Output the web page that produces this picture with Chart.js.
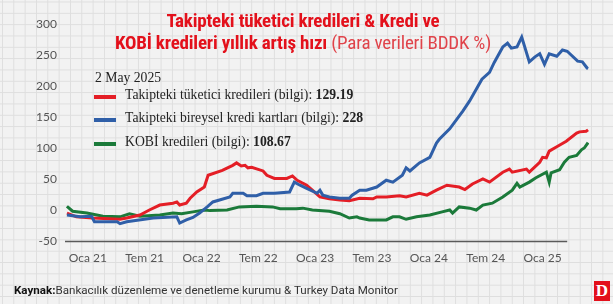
<!DOCTYPE html>
<html><head><meta charset="utf-8">
<script src="https://cdn.jsdelivr.net/npm/chart.js@4/dist/chart.umd.min.js"></script>
<style>
html,body{margin:0;padding:0;}
body{width:613px;height:304px;overflow:hidden;position:relative;
background-color:#f2f2f2;
background-image:linear-gradient(to right,#dedede 1px,transparent 1px),linear-gradient(to bottom,#dedede 1px,transparent 1px);
background-size:11.33px 11.33px;background-position:2px 1.5px;}
#c{position:absolute;left:0;top:0;}
#title{position:absolute;left:53px;top:10px;width:500px;text-align:center;color:#e3101b;font-family:"Liberation Sans Narrow","Roboto Condensed","Roboto",sans-serif;font-size:19px;line-height:22px;letter-spacing:-0.2px;}
#title b{font-weight:bold;}
#title .lt{font-weight:normal;color:#e0434a;}
#legend{position:absolute;left:94px;top:70px;font-family:"Liberation Serif","DejaVu Serif",serif;font-size:13.7px;color:#222;}
#legend .date{position:absolute;left:1px;top:0;white-space:nowrap;}
#legend .row{position:absolute;left:0;white-space:nowrap;}
#legend .sw{position:absolute;left:0;width:22px;height:4px;}
#legend .tx{position:absolute;left:31px;top:-8px;}
#src{position:absolute;left:14px;top:283px;font-family:"Liberation Sans Narrow","Roboto",sans-serif;font-size:11.6px;color:#333;white-space:nowrap;}
#src b{color:#111;}
#logo{position:absolute;left:594px;top:281px;width:16px;height:20px;background:#e3101b;color:#fff;font-family:"Liberation Serif",serif;font-weight:bold;font-size:17px;line-height:20px;text-align:center;}
</style></head>
<body>
<canvas id="c" width="613" height="304"></canvas>
<div id="title"><b>Takipteki tüketici kredileri &amp; Kredi ve</b><br><b>KOBİ kredileri yıllık artış hızı</b> <span class="lt">(Para verileri BDDK %)</span></div>
<div id="legend">
  <div class="date">2 May 2025</div>
  <div class="row" style="top:25px"><div class="sw" style="background:#e41e26"></div><div class="tx">Takipteki tüketici kredileri (bilgi): <b>129.19</b></div></div>
  <div class="row" style="top:48px"><div class="sw" style="background:#2f5fa8"></div><div class="tx">Takipteki bireysel kredi kartları (bilgi): <b>228</b></div></div>
  <div class="row" style="top:72px"><div class="sw" style="background:#1b7a3a"></div><div class="tx">KOBİ kredileri (bilgi): <b>108.67</b></div></div>
</div>
<div id="src"><b>Kaynak:</b>Bankacılık düzenleme ve denetleme kurumu &amp; Turkey Data Monitor</div>
<div id="logo">D</div>
<script>
// x values: months since January 2021
const tickMonths = [0, 6, 12, 18, 24, 30, 36, 42, 48];
const tickLabels = ["Oca 21", "Tem 21", "Oca 22", "Tem 22", "Oca 23", "Tem 23", "Oca 24", "Tem 24", "Oca 25"];

const consumerX = [-2.2,-1.2,0.5,3.4,4.1,5.5,6.5,7.6,9.0,9.4,9.7,10.4,10.8,11.5,12.3,12.7,14.2,15.3,15.7,16.2,16.6,16.9,17.3,18.5,18.9,19.7,21.0,21.6,22.1,23.1,23.7,24.5,25.5,26.6,27.6,28.7,30.1,30.5,31.5,32.9,33.6,35.0,35.8,36.8,37.9,39.2,39.8,40.6,41.7,42.4,43.8,44.5,44.8,46.3,46.6,47.7,48.0,48.4,48.7,49.5,50.5,51.6,51.9,52.6,52.8];
const consumerY = [-5,-11,-13,-15,-13,-8,0,8,11,13,8,11,19,29,37,56,64,72,76,71,72,68,69,63,56,51,51,55,48,40,32,21,18,16,15,19,18,21,21,23,21,27,24,32,40,37,33,42,50,45,61,66,61,66,61,77,85,84,95,102,111,124,126,127,129.19];

const cardsX = [-2.2,-0.8,0.4,0.7,3.1,3.4,4.1,6.9,9.4,9.7,10.4,11.1,11.8,12.6,13.2,15.0,15.3,16.4,16.8,17.8,18.5,19.7,21.3,21.8,22.4,23.1,24.2,24.5,24.8,25.5,26.6,27.6,27.9,28.7,29.4,30.5,31.5,32.2,33.2,33.6,34.0,35.0,36.1,36.8,37.1,38.2,39.6,40.3,41.6,42.4,42.9,43.8,44.3,44.7,45.3,45.8,46.6,47.2,47.7,48.2,48.7,49.5,50.1,50.6,51.7,52.2,52.7,52.8];
const cardsY = [-8,-11,-10,-19,-19,-22,-19,-13,-11,-21,-16,-12,-5,5,13,21,27,27,23,23,27,27,29,45,40,35,27,32,24,21,19,19,24,32,32,37,48,45,56,68,63,76,85,108,114,131,160,176,211,222,238,263,269,261,263,279,239,247,252,235,252,248,258,256,240,239,229,228];

const smeX = [-2.2,-1.6,-0.1,1.6,3.4,4.4,5.5,7.6,9.0,9.9,11.1,12.3,12.9,14.7,16.0,17.8,19.5,20.3,22.0,22.7,23.7,25.5,26.6,27.6,28.4,28.7,29.7,31.5,32.2,32.9,33.6,34.7,36.1,37.4,38.2,38.5,39.2,40.3,41.0,41.7,42.7,43.8,44.8,45.3,45.6,46.6,47.3,48.4,48.7,48.9,49.8,50.3,50.8,51.6,52.1,52.4,52.8];
const smeY = [6,-2,-5,-10,-11,-6,-10,-8,-5,-6,-3,0,-1,0,5,6,5,2,2,3,0,-2,-6,-13,-11,-13,-16,-16,-11,-11,-15,-11,-8,-3,0,-5,5,3,0,8,11,21,32,43,37,45,52,61,45,60,65,77,85,88,97,100,108.67];

const pts = (xs, ys) => xs.map((x, i) => ({x: x, y: ys[i]}));

const axisLine = {
  id: 'axisLine',
  afterDatasetsDraw(chart) {
    const {ctx, scales: {x, y}} = chart;
    const yy = Math.round(y.getPixelForValue(-50)) + 0.5;
    ctx.save();
    ctx.strokeStyle = '#5a5a5a';
    ctx.lineWidth = 1.5;
    ctx.beginPath();
    ctx.moveTo(x.left - 1, yy);
    ctx.lineTo(x.getPixelForValue(50.6), yy);
    ctx.stroke();
    ctx.restore();
  }
};

new Chart(document.getElementById('c'), {
  type: 'line',
  data: {
    datasets: [
      {label: 'Takipteki tüketici kredileri', data: pts(consumerX, consumerY), borderColor: '#e41e26', borderWidth: 3, pointRadius: 0, tension: 0, order: 2},
      {label: 'Takipteki bireysel kredi kartları', data: pts(cardsX, cardsY), borderColor: '#2f5fa8', borderWidth: 3, pointRadius: 0, tension: 0, order: 1},
      {label: 'KOBİ kredileri', data: pts(smeX, smeY), borderColor: '#1b7a3a', borderWidth: 3, pointRadius: 0, tension: 0, order: 3}
    ]
  },
  options: {
    responsive: false,
    animation: false,
    devicePixelRatio: 1,
    layout: {padding: {left: 0, right: 24, top: 24, bottom: 0}},
    plugins: {legend: {display: false}, tooltip: {enabled: false}, title: {display: false}},
    scales: {
      x: {
        type: 'linear', min: -2.3, max: 52.9,
        grid: {display: false, drawTicks: false}, border: {display: false},
        afterBuildTicks: (s) => { s.ticks = tickMonths.map(v => ({value: v})); },
        afterFit: (s) => { s.height = 63; },
        ticks: {
          padding: 10, maxRotation: 0, autoSkip: false, color: '#555',
          font: {family: 'Lato', size: 12},
          callback: (v) => { const i = tickMonths.indexOf(v); return i >= 0 ? tickLabels[i] : ''; }
        }
      },
      y: {
        min: -50, max: 300,
        grid: {display: false, drawTicks: false}, border: {display: false},
        afterFit: (s) => { s.width = 66; },
        ticks: {stepSize: 50, padding: 9, color: '#555', font: {family: 'Lato', size: 12}}
      }
    }
  },
  plugins: [axisLine]
});
</script>
</body></html>
